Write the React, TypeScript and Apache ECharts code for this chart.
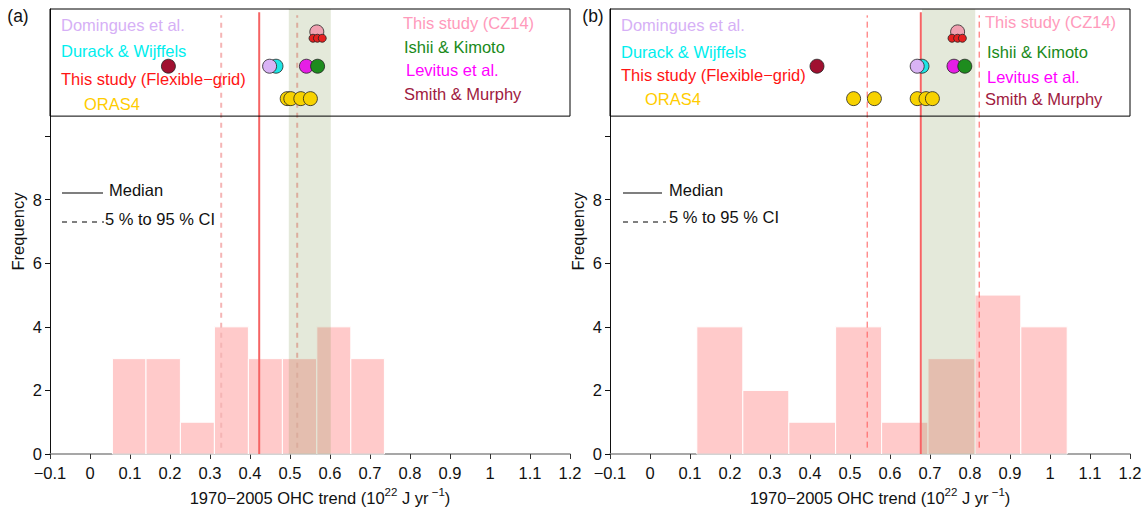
import React, { useEffect, useRef } from 'react';
import * as echarts from 'echarts';

const FONT = '"Liberation Sans", Arial, Helvetica, sans-serif';

// ---------- Panel (a) data ----------
const edgesA = [0.056, 0.14, 0.226, 0.311, 0.396, 0.481, 0.567, 0.652, 0.736];
const countsA = [3, 3, 1, 4, 3, 3, 4, 3];
const medianA = 0.423;
const ciA = [0.328, 0.518];
const shadeA = [0.497, 0.602];
const dominguesA = [0.449];
const durackA = [0.465];
const smithA = [0.196];
const levitusA = [0.541];
const ishiiA = [0.569];
const orasA = [0.493, 0.502, 0.527, 0.551];
const cz14A = [0.567];
const flexA = [0.5575, 0.5685, 0.5806];

// ---------- Panel (b) data ----------
const edgesB = [0.117, 0.232, 0.347, 0.464, 0.579, 0.695, 0.8125, 0.927, 1.043];
const countsB = [4, 2, 1, 4, 1, 3, 5, 4];
const medianB = 0.677;
const ciB = [0.543, 0.823];
const shadeB = [0.68, 0.813];
const dominguesB = [0.668];
const durackB = [0.68];
const smithB = [0.4175];
const levitusB = [0.76];
const ishiiB = [0.787];
const orasB = [0.509, 0.561, 0.668, 0.69, 0.706];
const cz14B = [0.769];
const flexB = [0.755, 0.769, 0.781];

// rows (frequency-axis units) of the dot strip in the upper box
const rowCZ14 = 13.28;
const rowFlex = 13.08;
const rowMid = 12.2;
const rowOras = 11.18;
const boxBottom = 10.63;
const yMax = 14;

const xMin = -0.1;
const xMax = 1.2;
const yLabelTicks = [0, 2, 4, 6, 8];
const yTickMarks = [0, 2, 4, 6, 8, 10];

const C = {
  domingues: '#d9b3f5',
  durack: '#1ee6e6',
  smith: '#a01030',
  levitus: '#e61ee6',
  ishii: '#1e8c1e',
  oras: '#f7d200',
  cz14: '#f0a0b0',
  flex: '#e62020',
};

const xLabelFmt = (v: number) => {
  const r = Math.round(v * 10) / 10;
  return r < 0 ? '\u2212' + String(Math.abs(r)) : String(r);
};

function panel(i: number, d: any) {
  const base = { xAxisIndex: i, yAxisIndex: i };
  const dots = (vals: number[], y: number, color: string, size: number, z: number) => ({
    ...base,
    type: 'scatter',
    data: vals.map((v) => [v, y]),
    symbolSize: size,
    itemStyle: { color, borderColor: '#222', borderWidth: 0.8, opacity: 1 },
    z,
    silent: true,
  });
  const vline = (x: number, y0: number, y1: number, style: any, z: number) => ({
    ...base,
    type: 'line',
    data: [[x, y0], [x, y1]],
    symbol: 'none',
    lineStyle: style,
    z,
    silent: true,
  });
  return [
    {
      ...base,
      type: 'custom',
      z: 2,
      data: d.counts.map((c: number, k: number) => [d.edges[k], d.edges[k + 1], c]),
      encode: { x: [0, 1], y: 2 },
      renderItem: (p: any, api: any) => {
        const a = api.coord([api.value(0), api.value(2)]);
        const b = api.coord([api.value(1), 0]);
        return {
          type: 'rect',
          shape: { x: a[0], y: a[1], width: b[0] - a[0], height: b[1] - a[1] },
          style: { fill: 'rgba(255,150,150,0.5)', stroke: '#ffffff', lineWidth: 1 },
        };
      },
    },
    vline(d.ci[0], 0.2, 13.8, d.dash, 3),
    vline(d.ci[1], 0.2, 13.8, d.dash, 3),
    {
      ...base,
      type: 'custom',
      z: 4,
      data: [[d.shade[0], d.shade[1]]],
      encode: { x: [0, 1] },
      renderItem: (p: any, api: any) => {
        const a = api.coord([api.value(0), yMax]);
        const b = api.coord([api.value(1), 0]);
        return {
          type: 'rect',
          shape: { x: a[0], y: a[1], width: b[0] - a[0], height: b[1] - a[1] },
          style: { fill: 'rgba(120,145,70,0.2)' },
        };
      },
    },
    vline(d.median, 0, 13.9, { color: '#f56464', width: 2 }, 5),
    {
      ...base,
      type: 'custom',
      z: 6,
      data: [[xMin, xMax, boxBottom, yMax]],
      encode: { x: [0, 1], y: [2, 3] },
      renderItem: (p: any, api: any) => {
        const a = api.coord([api.value(0), api.value(3)]);
        const b = api.coord([api.value(1), api.value(2)]);
        return {
          type: 'rect',
          shape: { x: a[0], y: a[1], width: b[0] - a[0], height: b[1] - a[1] },
          style: { fill: 'none', stroke: '#000', lineWidth: 1 },
        };
      },
    },
    dots(d.smith, rowMid, C.smith, 14, 7),
    dots(d.durack, rowMid, C.durack, 14, 7),
    dots(d.domingues, rowMid, C.domingues, 14, 8),
    dots(d.levitus, rowMid, C.levitus, 14, 7),
    dots(d.ishii, rowMid, C.ishii, 14, 8),
    dots(d.oras, rowOras, C.oras, 14, 7),
    dots(d.cz14, rowCZ14, C.cz14, 14, 7),
    dots(d.flex, rowFlex, C.flex, 8, 8),
  ];
}

function axes(i: number) {
  const grid = { left: i === 0 ? 50 : 610, width: 520, top: 9, height: 448.5 };
  const xAxis = {
    gridIndex: i,
    type: 'value',
    min: xMin,
    max: xMax,
    interval: 0.1,
    name: '{n|1970\u22122005 OHC trend (10}{s|22}{n| J yr}{s| \u22121}{n|)}',
    nameLocation: 'middle',
    nameGap: 32,
    nameTextStyle: {
      padding: [0, 0, 0, 20],
      rich: {
        n: { fontSize: 16.5, fontFamily: FONT, color: '#111', verticalAlign: 'bottom', lineHeight: 20 },
        s: { fontSize: 11.5, fontFamily: FONT, color: '#111', verticalAlign: 'bottom', lineHeight: 20, padding: [0, 0, 8, 0] },
      },
    },
    axisLine: { show: true, onZero: false, lineStyle: { color: '#8a8a8a', width: 1.5 } },
    axisTick: { show: true, length: 5, lineStyle: { color: '#333', width: 1 } },
    axisLabel: { formatter: xLabelFmt, fontSize: 16.5, fontFamily: FONT, color: '#111', margin: 10 },
    splitLine: { show: false },
  };
  const yAxis = {
    gridIndex: i,
    type: 'value',
    min: 0,
    max: yMax,
    name: 'Frequency',
    nameLocation: 'middle',
    nameGap: 24,
    nameTextStyle: { fontSize: 16.5, fontFamily: FONT, color: '#111' },
    axisLine: { show: true, onZero: false, lineStyle: { color: '#111', width: 1 } },
    axisTick: { show: true, length: 5, customValues: yTickMarks, lineStyle: { color: '#111' } },
    axisLabel: { customValues: yLabelTicks, fontSize: 16.5, fontFamily: FONT, color: '#111', margin: 8 },
    splitLine: { show: false },
  };
  return { grid, xAxis, yAxis };
}

const txt = (x: number, y: number, text: string, fill: string, size = 16.5, align = 'left') => ({
  type: 'text',
  x,
  y,
  silent: true,
  z: 100,
  style: { text, fill, fontSize: size, fontFamily: FONT, verticalAlign: 'middle', align },
});
const gline = (x1: number, x2: number, y: number, stroke: string, dash?: number[]) => ({
  type: 'line',
  silent: true,
  z: 100,
  shape: { x1, y1: y, x2, y2: y },
  style: { stroke, lineWidth: dash ? 1 : 1.5, lineDash: dash || null },
});

export default function App() {
  const ref = useRef<HTMLDivElement>(null);
  useEffect(() => {
    if (!ref.current) return;
    const chart = echarts.init(ref.current, null, { renderer: 'svg' });
    const a0 = axes(0);
    const a1 = axes(1);
    const seriesA = panel(0, {
      edges: edgesA, counts: countsA, median: medianA, ci: ciA, shade: shadeA,
      dash: { color: '#f5b5b5', width: 2, type: [5, 5] },
      domingues: dominguesA, durack: durackA, smith: smithA, levitus: levitusA, ishii: ishiiA,
      oras: orasA, cz14: cz14A, flex: flexA,
    });
    const seriesB = panel(1, {
      edges: edgesB, counts: countsB, median: medianB, ci: ciB, shade: shadeB,
      dash: { color: '#ff5a5a', width: 1, type: [6, 4] },
      domingues: dominguesB, durack: durackB, smith: smithB, levitus: levitusB, ishii: ishiiB,
      oras: orasB, cz14: cz14B, flex: flexB,
    });
    chart.setOption({
      animation: false,
      backgroundColor: '#ffffff',
      textStyle: { fontFamily: FONT },
      grid: [a0.grid, a1.grid],
      xAxis: [a0.xAxis, a1.xAxis],
      yAxis: [a0.yAxis, a1.yAxis],
      series: [...seriesA, ...seriesB],
      graphic: [
        txt(18, 16, '(a)', '#111', 17.5, 'center'),
        txt(593, 16, '(b)', '#111', 17.5, 'center'),
        // panel (a) box labels
        txt(61, 25, 'Domingues et al.', '#d6b0f6'),
        txt(61, 51, 'Durack & Wijffels', '#00eeee'),
        txt(61, 79, 'This study (Flexible\u2212grid)', '#ff1414'),
        txt(84, 104, 'ORAS4', '#ffcc00'),
        txt(403, 23, 'This study (CZ14)', '#ff9abb'),
        txt(404, 47, 'Ishii & Kimoto', '#1a8a1a'),
        txt(406, 70, 'Levitus et al.', '#ff00ff'),
        txt(404, 94, 'Smith & Murphy', '#a01a40'),
        // panel (b) box labels
        txt(621, 25, 'Domingues et al.', '#d6b0f6'),
        txt(621, 52, 'Durack & Wijffels', '#00eeee'),
        txt(621, 75, 'This study (Flexible\u2212grid)', '#ff1414'),
        txt(645, 99, 'ORAS4', '#ffcc00'),
        txt(985, 22, 'This study (CZ14)', '#ff9abb'),
        txt(987, 52, 'Ishii & Kimoto', '#1a8a1a'),
        txt(987, 77, 'Levitus et al.', '#ff00ff'),
        txt(985, 99, 'Smith & Murphy', '#a01a40'),
        // in-plot legends
        gline(62, 103, 193, '#555'),
        txt(109, 190, 'Median', '#111'),
        gline(62, 104, 222, '#000', [5, 5]),
        txt(105, 219, '5 % to 95 % CI', '#111'),
        gline(623, 662, 193, '#555'),
        txt(669, 190, 'Median', '#111'),
        gline(623, 666, 222, '#000', [5, 5]),
        txt(669, 217, '5 % to 95 % CI', '#111'),
      ],
    });
    return () => chart.dispose();
  }, []);
  return (
    <div
      ref={ref}
      style={{ position: 'fixed', left: 0, top: 0, width: 1145, height: 511, background: '#fff' }}
    />
  );
}
